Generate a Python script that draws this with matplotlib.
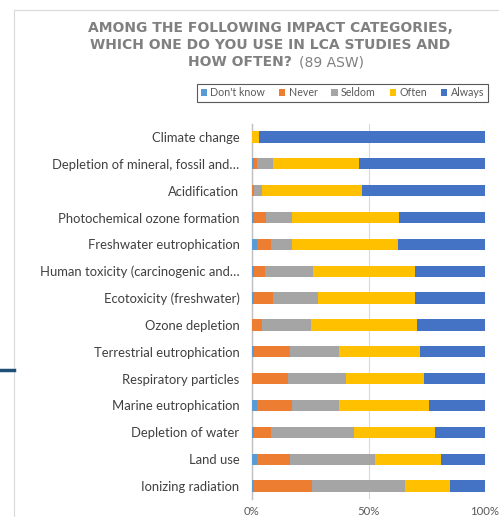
import matplotlib.pyplot as plt
from matplotlib.lines import Line2D
import numpy as np

# data (percent of answers)
categories = [
    'Climate change',
    'Depletion of mineral, fossil and\u2026',
    'Acidification',
    'Photochemical ozone formation',
    'Freshwater eutrophication',
    'Human toxicity (carcinogenic and\u2026',
    'Ecotoxicity (freshwater)',
    'Ozone depletion',
    'Terrestrial eutrophication',
    'Respiratory particles',
    'Marine eutrophication',
    'Depletion of water',
    'Land use',
    'Ionizing radiation',
]
dont_know = [0, 0.9, 0, 0.9, 2.3, 0.7, 0.7, 0, 0.9, 0, 2.3, 0.9, 2.3, 0.9]
never     = [0, 1.3, 0.8, 4.9, 6.0, 5.0, 8.4, 4.3, 15.3, 15.3, 15.0, 7.3, 14.1, 24.9]
seldom    = [0, 7.0, 3.5, 11.4, 9.0, 20.5, 19.4, 21.0, 21.0, 25.0, 19.9, 35.7, 36.4, 40.0]
often     = [3.2, 36.8, 42.7, 45.8, 45.5, 43.8, 41.4, 45.4, 34.9, 33.4, 38.6, 34.7, 28.4, 19.0]
always    = [96.8, 54.0, 53.0, 37.0, 37.2, 30.0, 30.1, 29.3, 27.9, 26.3, 24.2, 21.4, 18.8, 15.2]

series = ["Don't know", 'Never', 'Seldom', 'Often', 'Always']
colors = ['#5B9BD5', '#ED7D31', '#A5A5A5', '#FFC000', '#4472C4']
values = [dont_know, never, seldom, often, always]

fig = plt.figure(figsize=(4.99, 5.17), dpi=100)
ax = fig.add_axes([0.505, 0.034, 0.467, 0.727])

y = np.arange(len(categories))
left = np.zeros(len(categories))
for name, col, vals in zip(series, colors, values):
    vals = np.array(vals)
    ax.barh(y, vals, left=left, height=0.42, color=col, label=name, zorder=3)
    left += vals

ax.set_ylim(len(categories) - 0.5, -0.5)
ax.set_xlim(0, 100)
ax.set_yticks(y)
ax.set_yticklabels(categories, fontfamily='Lato', fontsize=9.4, color='#404040')
ax.set_xticks([0, 50, 100])
ax.set_xticklabels(['0%', '50%', '100%'], fontfamily='Lato', fontsize=8.2, color='#595959')
ax.tick_params(length=0)
ax.tick_params(axis='y', pad=9)
ax.tick_params(axis='x', pad=5)
ax.grid(axis='x', color='#d9d9d9', lw=0.8, zorder=0)
for s in ['top', 'right', 'bottom']:
    ax.spines[s].set_visible(False)
ax.spines['left'].set_color('#bfbfbf')
ax.spines['left'].set_linewidth(1.0)

# legend
leg = fig.legend(loc='center', bbox_to_anchor=(0.686, 0.8205), ncol=5,
                 prop={'family': 'Lato', 'size': 7.7}, handlelength=0.6, handleheight=0.6,
                 handletextpad=0.3, columnspacing=1.3, borderpad=0.35,
                 fancybox=False, edgecolor='#595959', framealpha=1)
leg.get_frame().set_linewidth(0.8)
for t in leg.get_texts():
    t.set_color('#595959')

# title
tkw = dict(va='center', color='#808080', fontfamily='DejaVu Sans',
           fontweight='bold', fontsize=10)
fig.text(0.541, 0.946, 'AMONG THE FOLLOWING IMPACT CATEGORIES,', ha='center', **tkw)
fig.text(0.541, 0.913, 'WHICH ONE DO YOU USE IN LCA STUDIES AND', ha='center', **tkw)
fig.text(292 / 499, 0.880, 'HOW OFTEN?', ha='right', **tkw)
fig.text(299 / 499, 0.880, '(89 ASW)', ha='left', va='center', color='#808080',
         fontfamily='DejaVu Sans', fontsize=10)

# slide frame decorations
fig.add_artist(Line2D([14 / 499, 14 / 499], [0, 1 - 10 / 517], color='#d9d9d9', lw=0.8))
fig.add_artist(Line2D([14 / 499, 1], [1 - 10 / 517, 1 - 10 / 517], color='#d9d9d9', lw=0.8))
fig.add_artist(Line2D([0, 14 / 499], [1 - 370 / 517, 1 - 370 / 517], color='#1f4e79', lw=2.5))

fig.savefig('out.png', dpi=100)
